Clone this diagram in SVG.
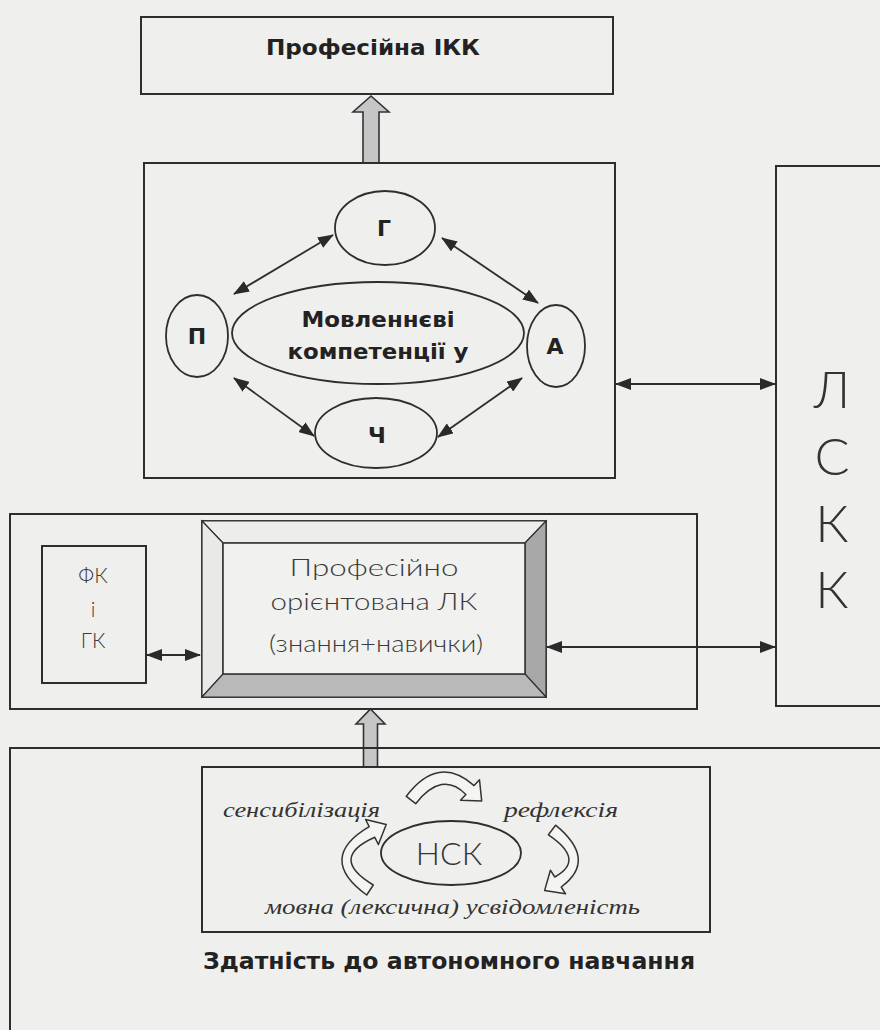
<svg xmlns="http://www.w3.org/2000/svg" width="880" height="1030" viewBox="0 0 880 1030">
<defs>
<style>
.box{fill:none;stroke:#2e2e2e;stroke-width:2}
.ell{fill:none;stroke:#2e2e2e;stroke-width:1.8}
.conn{fill:none;stroke:#2e2e2e;stroke-width:1.8}
.hollow{fill:#c6c6c6;stroke:#333;stroke-width:1.6;stroke-linejoin:miter}
.curv{fill:#f4f4f2;stroke:#333;stroke-width:1.5;stroke-linejoin:round}
.bold{font-family:"DejaVu Sans","Liberation Sans",sans-serif;font-weight:bold;fill:#222;text-anchor:middle}
.light{font-family:"Lato","Open Sans","DejaVu Sans",sans-serif;font-weight:300;fill:#3a3a3a;text-anchor:middle}
.ital{font-family:"Liberation Serif","DejaVu Serif",serif;font-style:italic;fill:#333}
</style>
<marker id="ah" viewBox="0 0 16 12" refX="15" refY="6" markerWidth="16" markerHeight="12" markerUnits="userSpaceOnUse" orient="auto-start-reverse">
<path d="M0,0 L16,6 L0,12 Z" fill="#2a2a2a"/>
</marker>
</defs>
<rect x="0" y="0" width="880" height="1030" fill="#efefed"/>

<g id="connectors">
<line class="conn" x1="333" y1="235" x2="234" y2="294" marker-start="url(#ah)" marker-end="url(#ah)"/>
<line class="conn" x1="442" y1="238" x2="538" y2="303" marker-start="url(#ah)" marker-end="url(#ah)"/>
<line class="conn" x1="234" y1="378" x2="314" y2="436" marker-start="url(#ah)" marker-end="url(#ah)"/>
<line class="conn" x1="438" y1="437" x2="522" y2="378" marker-start="url(#ah)" marker-end="url(#ah)"/>
<line class="conn" x1="616" y1="384" x2="775" y2="384" marker-start="url(#ah)" marker-end="url(#ah)"/>
<line class="conn" x1="547" y1="647" x2="775" y2="647" marker-start="url(#ah)" marker-end="url(#ah)"/>
<line class="conn" x1="147" y1="655" x2="200" y2="655" stroke-width="2.5" marker-start="url(#ah)" marker-end="url(#ah)"/>
<path class="hollow" d="M371,96 L389,112 L379,112 L379,163 L363,163 L363,112 L353,112 Z"/>
<path class="hollow" d="M370.5,709 L385,724 L377.5,724 L377.5,767 L363.5,767 L363.5,724 L356,724 Z"/>
</g>

<g id="node-ikk">
<rect class="box" x="141" y="17" width="472" height="77"/>
<text class="bold" x="373" y="55" font-size="21" textLength="214" lengthAdjust="spacingAndGlyphs">Професійна ІКК</text>
</g>

<g id="node-speech">
<rect class="box" x="144" y="163" width="471" height="315"/>
</g>
<g id="node-g">
<ellipse class="ell" cx="385" cy="228" rx="50" ry="37"/>
<text class="bold" x="384" y="236" font-size="22">Г</text>
</g>
<g id="node-center">
<ellipse class="ell" cx="378" cy="333" rx="146" ry="51"/>
<text class="bold" x="378" y="327" font-size="22" textLength="153" lengthAdjust="spacingAndGlyphs">Мовленнєві</text>
<text class="bold" x="378" y="359" font-size="22" textLength="181" lengthAdjust="spacingAndGlyphs">компетенції у</text>
</g>
<g id="node-p">
<ellipse class="ell" cx="197" cy="336" rx="31" ry="41"/>
<text class="bold" x="197" y="344" font-size="22">П</text>
</g>
<g id="node-a">
<ellipse class="ell" cx="556" cy="346" rx="29" ry="41"/>
<text class="bold" x="555" y="354" font-size="22">А</text>
</g>
<g id="node-ch">
<ellipse class="ell" cx="376" cy="433" rx="61" ry="35"/>
<text class="bold" x="377" y="443" font-size="22">Ч</text>
</g>

<g id="node-lskk">
<rect class="box" x="776" y="166" width="200" height="540"/>
<text class="light" x="832" y="408" font-size="52" style="fill:#333">Л</text>
<text class="light" x="832" y="475" font-size="52" style="fill:#333">С</text>
<text class="light" x="832" y="542" font-size="52" style="fill:#333">К</text>
<text class="light" x="832" y="608" font-size="52" style="fill:#333">К</text>
</g>

<g id="node-lk-group">
<rect class="box" x="10" y="514" width="687" height="195"/>
</g>
<g id="node-fk">
<rect class="box" x="42" y="546" width="104" height="137"/>
<text class="light" x="93" y="583" font-size="21">ФК</text>
<text class="light" x="93" y="617" font-size="21">і</text>
<text class="light" x="93" y="648" font-size="21">ГК</text>
</g>
<g id="node-lk">
<rect x="202" y="521" width="344" height="176" fill="#f1f1ef" stroke="#2e2e2e" stroke-width="1.8"/>
<polygon points="202,521 546,521 525,543 223,543" fill="#ededeb" stroke="#333" stroke-width="1.2"/>
<polygon points="202,521 223,543 223,674 202,697" fill="#e9e9e7" stroke="#333" stroke-width="1.2"/>
<polygon points="546,521 546,697 525,674 525,543" fill="#a8a8a8" stroke="#333" stroke-width="1.2"/>
<polygon points="202,697 223,674 525,674 546,697" fill="#b9b9b9" stroke="#333" stroke-width="1.2"/>
<rect x="223" y="543" width="302" height="131" fill="#f1f1ef" stroke="#2e2e2e" stroke-width="1.5"/>
<text class="light" x="374" y="576" font-size="23" textLength="169" lengthAdjust="spacingAndGlyphs">Професійно</text>
<text class="light" x="374" y="610" font-size="23" textLength="207" lengthAdjust="spacingAndGlyphs">орієнтована ЛК</text>
<text class="light" x="376" y="652" font-size="23" textLength="214" lengthAdjust="spacingAndGlyphs">(знання+навички)</text>
</g>

<g id="node-autonomy">
<rect class="box" x="10" y="748" width="900" height="300"/>
<text class="bold" x="449" y="969" font-size="23" textLength="492" lengthAdjust="spacingAndGlyphs">Здатність до автономного навчання</text>
</g>
<g id="node-nsk-box">
<rect class="box" x="202" y="767" width="508" height="165"/>
<text class="ital" x="223" y="817" font-size="22" textLength="157" lengthAdjust="spacingAndGlyphs">сенсибілізація</text>
<text class="ital" x="504" y="817" font-size="22" textLength="114" lengthAdjust="spacingAndGlyphs">рефлексія</text>
<text class="ital" x="265" y="914" font-size="22" textLength="375" lengthAdjust="spacingAndGlyphs">мовна (лексична) усвідомленість</text>
<path class="curv" d="M406.3,796.3 Q438,754 474.1,785.6 L479.5,779.8 L481.7,800.9 L460.5,800.2 L465.9,794.4 Q442,770 415.7,803.7 Z"/>
<path class="curv" d="M555.6,825.2 Q598,860 561.2,887 L565.6,893.8 L544.6,890.6 L550.4,870.2 L554.8,877 Q586,860 548.4,834.8 Z"/>
<path class="curv" d="M366.7,895 Q316,858 369.2,826.7 L365.6,819.5 L386.2,824.6 L378.4,844.5 L374.8,837.3 Q328,858 373.3,885 Z"/>
</g>
<g id="node-nsk">
<ellipse class="ell" cx="451" cy="853" rx="70" ry="32" fill="#efefed"/>
<text class="light" x="449" y="865" font-size="32" style="fill:#333">НСК</text>
</g>
</svg>
